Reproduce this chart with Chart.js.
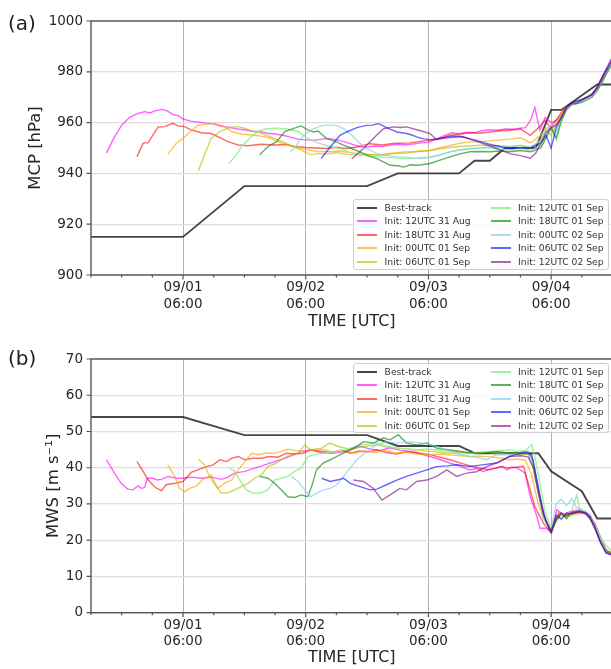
<!DOCTYPE html>
<html><head><meta charset="utf-8">
<script src="https://cdn.jsdelivr.net/npm/chart.js@4.4.1/dist/chart.umd.min.js"></script>
<style>
html,body{margin:0;padding:0;background:#fff;overflow:hidden;width:611px;height:669px;}
#wrap{position:relative;width:611px;height:669px;overflow:hidden;font-family:'DejaVu Sans',sans-serif;}
canvas{position:absolute;left:0;}
.plabel{position:absolute;left:8px;font-size:20px;line-height:20px;color:#222;}
.legend{position:absolute;background:rgba(255,255,255,0.8);border:1px solid #cfcfcf;border-radius:3px;box-sizing:border-box;}
.li{position:absolute;height:12px;white-space:nowrap;font-size:9.2px;line-height:12px;color:#333;}
.li .ln{position:absolute;left:0;top:5px;width:20px;height:2px;}
.li .tx{position:absolute;left:27.6px;top:0;}
</style>
</head><body>
<div id="wrap">
  <canvas id="cA" width="620" height="331" style="top:0"></canvas>
  <canvas id="cB" width="620" height="339" style="top:330px"></canvas>
  <div class="plabel" style="top:13px">(a)</div>
  <div class="plabel" style="top:348px">(b)</div>
  <div class="legend" id="legA" style="left:353px;top:199px;width:256px;height:71px"></div>
  <div class="legend" id="legB" style="left:353px;top:363px;width:256px;height:70px"></div>
</div>
<script>
// ---------- categories / labels ----------
const seriesLabels = ['Best-track','Init: 12UTC 31 Aug','Init: 18UTC 31 Aug','Init: 00UTC 01 Sep','Init: 06UTC 01 Sep',
  'Init: 12UTC 01 Sep','Init: 18UTC 01 Sep','Init: 00UTC 02 Sep','Init: 06UTC 02 Sep','Init: 12UTC 02 Sep'];
// x = hours since 12UTC 31 Aug
const xTickHours = [18, 42, 66, 90];
const xTickLabels = [['09/01','06:00'],['09/02','06:00'],['09/03','06:00'],['09/04','06:00']];

// ---------- (a) MCP [hPa] ----------
const mcpBest = [[0,915],[18,915],[30,935],[54,935],[60,940],[72,940],[75,945],[78,945],[81,950],[87,950],[90,965],[92,965],[99,975],[102,975]];
const mcp12UTC31Aug = [[3,948],[4.5,954],[6,959],[7.5,962],[9,963.5],[10.5,964.3],[11.5,963.8],[12.5,964.6],[14,965.2],[15,964.5],[16,963.2],[17,962.8],[18,961.4],[19.5,960.6],[21,960.2],[22.5,959.8],[24,959.5],[25.5,958.5],[27,958.2],[28.5,957.5],[30,957.2],[31.5,956.6],[33,956.5],[34.5,955.8],[36,955.5],[37.5,955],[39,954.3],[40.5,953.5],[42,953.2],[43.5,953],[45,953.4],[46.5,953.8],[48,953.2],[49.5,952.5],[51,951.5],[52.5,950.6],[54,950.4],[55.5,950.8],[57,950.6],[58.5,951.2],[60,951.5],[61.5,951.3],[63,951.6],[64.5,952],[66,952.2],[67.5,953.5],[69,954.8],[70.5,956],[72,955.6],[73.5,956.2],[75,956],[76.5,956.8],[78,957.2],[79.5,957],[81,957.5],[82.5,957.4],[84,957.8],[85,958],[86,961],[86.8,966],[87.8,957],[88.8,962],[90,960],[91,961],[92,963],[93,966],[94,967],[95,968],[96,969],[97,970],[98,971.5],[99,973.5],[100,977],[101,981],[102,985]];
const mcp18UTC31Aug = [[9,946.6],[10.2,951.9],[11.2,952.1],[12.1,955.1],[13.1,958.2],[14.4,958.4],[16,959.7],[17,958.7],[18.3,958.4],[19.6,957.1],[21.6,956],[23.5,955.7],[24.8,954.5],[26.8,952.5],[28.8,951.2],[30.7,950.9],[33.3,951.5],[35.9,951.2],[38,951.4],[39.8,950.6],[42,950.2],[44,950],[46,949.8],[48,950.3],[50,949.8],[52,950.4],[54.6,951.7],[57,951.2],[59,951.8],[62.4,952],[64,952.5],[66.3,953],[68,953.5],[70.2,955],[72,955.4],[74.1,956],[76,955.8],[78,956.3],[80,956.8],[82,957],[84,957.5],[85.9,955],[87.8,958.5],[88.8,961],[89.8,958],[91,961],[92,964],[93,966],[94,967.5],[96,969],[98,971],[99,974],[100,978],[101,981.5],[102,984]];
const mcp00UTC01Sep = [[15,947.5],[16.7,951.9],[18,953.8],[19.6,956.7],[20.9,959],[22.6,959.3],[24.2,959.7],[25.8,958.8],[27.5,956.5],[29.4,955.4],[31.4,955.1],[34,954.5],[35.5,953.5],[37.2,951.9],[39,951],[40.5,950.2],[42.4,949.2],[44.4,948.6],[46.5,948.5],[48.5,948.8],[50.5,948.2],[52.6,947.8],[54.5,947.5],[55.9,947.1],[58,947.8],[61.1,948.4],[63.5,948.6],[66.3,949],[68,950],[70.2,951],[72,951.8],[74.1,952.4],[76,952.4],[78,952.8],[80,953.2],[82,953.5],[84,954],[86,952],[88,955],[89,958],[90,957],[91,960],[92,963],[93,966],[94,967],[96,968.5],[98,971],[99,973],[100,977],[101,981],[102,984.5]];
const mcp06UTC01Sep = [[21,941],[22.2,947.3],[23.5,953.8],[25.2,956.5],[26.8,957.8],[28.4,958.4],[29.7,958],[31.4,956.7],[33.3,955.8],[35.9,953.8],[38.5,951.5],[41.1,949.2],[43,947.3],[44.4,947.9],[46,947.6],[48,948.2],[50,947.5],[52.6,947.1],[55,947.4],[57,947.2],[59.1,947.8],[61.5,948],[64,948.6],[66.3,949],[68,949.6],[70.2,950.2],[72,950.6],[75.4,951],[77.5,951.2],[79.3,951],[81.9,950.6],[84,951],[86,950],[88,953],[89,957],[90,955],[91,959],[92,963],[93,965.5],[94,967],[96,969],[98,971],[99,973],[100,976],[101,980],[102,984]];
const mcp12UTC01Sep = [[27,944],[28.4,947.3],[29.7,951.2],[31.4,954.5],[32.7,956.5],[34,957.5],[35.9,957.8],[38.5,957.5],[40.5,956.5],[42.4,953.8],[44.4,951.9],[46.5,950.8],[49,949.5],[51.3,947.8],[53.5,947],[55.9,946.5],[58.5,946.2],[61.1,945.8],[63.5,946],[66.3,946.5],[68,947.3],[70.2,948.5],[72,949.2],[75.4,949.8],[77,950.2],[79.3,949.8],[81.9,949.1],[84,950],[86,949],[88,951],[89,955],[90,958],[91,953],[92,960],[93,965],[94,967],[96,968.5],[98,970.5],[99,973],[100,976],[101,980],[102,983]];
const mcp18UTC01Sep = [[33,947.3],[34.6,950.6],[36.3,952.5],[37.9,956.5],[39.8,957.8],[41.1,958.7],[42.4,957.1],[43.5,956.3],[44.4,956.7],[46.1,953.7],[47.5,952.8],[49.4,951.1],[51,949.8],[52.6,948.5],[54.2,947],[55.9,945.8],[57.2,944.5],[58.5,943.2],[60,943],[61.1,942.5],[62.5,943.4],[63.7,943.2],[65,943.5],[66.3,943.9],[68,945],[70.2,946.5],[72,947.6],[74.1,948.5],[76,948.6],[78,948.5],[80,948.8],[81.9,948.5],[84,949],[86,948.5],[88,950],[89,954],[90,958],[91,954],[92,961],[93,965],[94,967],[96,968],[98,970],[99,972.5],[100,976],[101,980],[102,983.5]];
const mcp00UTC02Sep = [[39,948.5],[40,950.5],[41.1,953.8],[42.2,955.8],[43,957.1],[44.8,958.6],[46,959],[47.4,959],[48.5,958.5],[49.4,957.6],[50.5,955.8],[51.3,954.4],[52.5,952],[53.9,949.8],[55.9,947.8],[57.5,947.2],[59.8,946.5],[62,946.3],[64.4,945.8],[66.3,946.2],[68,947],[70.2,948.5],[72,949.2],[74.1,949.8],[76,950],[78,950.4],[80,950.5],[82,950.6],[84,951],[86,950.5],[88,953],[89,957],[90,959],[91,956],[92,962],[93,965],[94,967],[96,968.5],[98,970.5],[99,973],[100,976.5],[101,980.5],[102,984]];
const mcp06UTC02Sep = [[45,945.8],[46.8,950.4],[48.7,955],[50,956.3],[52,958],[53.9,958.9],[55,959],[56.2,959.6],[57,958.9],[57.8,958],[59,957],[59.8,956.3],[61.7,955.7],[62.6,955.2],[63.7,954.4],[65,953.6],[66.3,953.3],[67.5,953.6],[68.9,954.1],[70.5,954.6],[72.2,954.6],[73.8,953.8],[75.4,953],[77,952],[78.7,951.1],[80.3,950.4],[81.9,949.8],[84,950],[86,950],[88,952],[89,955],[90,950],[91,958],[92,962],[93,966],[94,968],[96,969],[98,971],[99,974],[100,978],[101,982],[102,986]];
const mcp12UTC02Sep = [[51,945.8],[53.3,949.8],[55.2,953.7],[57.2,957.6],[59.1,958.3],[60.5,958.1],[61.7,958.3],[63.7,957.2],[65,956.5],[66.3,955.7],[67.6,953.3],[69,953.8],[70.2,954.1],[72.8,954.4],[74.5,953.2],[76.7,951.7],[78,950.8],[79.3,949.8],[81.9,947.8],[84,947],[85.9,946],[87,948],[88,952],[89,956],[90,958],[91,959],[92,962],[93,966],[94,967.5],[95,967.5],[96,969],[98,971],[99,973.5],[100,977],[101,981],[102,985]];

// ---------- (b) MWS [m s-1] ----------
const mwsBest = [[0,54],[18,54],[30,49],[54,49],[60,46],[72,46],[75,44],[87.5,44],[90,39],[96,33.5],[99,26],[102,26]];
const mws12UTC31Aug = [[3,42.2],[4.6,38.5],[5.9,35.7],[7.2,34.1],[8.2,33.9],[9.2,35],[9.9,34.3],[10.5,34.6],[11,37.1],[12.1,37.1],[13,36.6],[13.8,36.8],[15.1,37.6],[16.7,37.1],[18,37.1],[19.6,37.4],[21.6,37.1],[23.5,37.4],[25.5,36.8],[26.8,37.4],[28.1,38.5],[30.1,39],[32,39.9],[34,40.8],[35.9,41.7],[37.9,42.6],[39.8,43.6],[41.1,44.5],[43,44.9],[45,44.2],[47,44],[49,44.3],[51,45],[52.6,45.9],[54.5,45.2],[56.5,44.8],[58.5,45.5],[60.5,44.8],[62.4,44.5],[64.5,43.8],[66.3,43.1],[68,42.4],[70.2,41.3],[72,40.5],[74.1,39.4],[75.5,39.8],[76.7,38.9],[78,39.6],[79.3,39.9],[80.5,40.4],[81.3,39.4],[82.3,40.2],[83.3,40],[84.9,38.5],[85.9,32.1],[87.2,26.6],[87.8,23.3],[89.1,23.3],[90.1,22],[91.1,28.4],[92.4,27],[93.7,27.9],[95.6,28.4],[97.6,27],[98.6,24],[99.6,20.1],[100.9,16.4],[102,16]];
const mws18UTC31Aug = [[9,41.7],[10.2,39],[11.2,36.6],[12.5,34.6],[13.8,33.7],[14.7,35.3],[16.4,35.7],[18,36.2],[19.6,38.7],[20.9,39.4],[22.6,40.3],[23.9,40.8],[25.2,42.2],[26.5,41.7],[27.5,42.6],[28.8,43.1],[30.1,42.2],[31.7,42.6],[33.3,42.6],[34.9,43.1],[36.6,42.9],[38.2,44],[39.8,43.8],[41.5,44],[43,44.9],[45.1,44.5],[47,44.2],[49,44.8],[50.7,44],[52.5,44.6],[54,44.3],[55.9,44.9],[57.8,44.2],[59.8,43.8],[61.8,44.4],[63.7,44.2],[65,43.9],[66.3,43.6],[68,43],[70.2,42.2],[72,41.4],[73.5,40.8],[75,40.2],[76.5,39.8],[78,39.4],[80,40.3],[81.9,39.9],[83.5,40.2],[84.6,40.4],[85.5,35.8],[86.8,29.3],[88.5,24.7],[89.8,22.4],[90.8,25],[91.5,27.5],[92.5,26.5],[93.5,27.3],[95,27.6],[96.5,27.8],[97.6,26.4],[98.6,24.5],[99.6,21],[100.7,17.5],[102,16.2]];
const mws00UTC01Sep = [[15,40.8],[16.4,37.6],[17.3,34.3],[18.3,33.4],[19.3,34.3],[20.6,35],[21.9,36.8],[23.5,38],[24.8,34.3],[26.1,35.7],[27.5,36.6],[28.8,39.4],[30.1,41.7],[31.4,44],[32.7,43.6],[34,44],[35.9,44],[37.2,44.5],[38.5,45.1],[39.8,44.8],[41.8,44.5],[43.7,44.9],[45.5,45],[47.5,44.3],[49.5,44.8],[51.5,44],[53.5,44.7],[55.5,44.2],[57.5,44.8],[59.5,44],[61.5,44.4],[63.5,43.8],[66.3,43.6],[68.5,43.8],[70.5,43.5],[72.5,43.3],[74.1,43.1],[76,43.2],[78,43],[80,42.7],[81.9,42.2],[83.5,42.4],[85,42],[86.2,38],[87.3,31],[88.5,26],[90,22.9],[91,26.5],[92,27.2],[93.5,27],[95,27.5],[96.5,27.3],[97.6,26.2],[98.6,24],[99.6,20.5],[100.7,17.2],[102,16.4]];
const mws06UTC01Sep = [[21,42.4],[22.2,40.8],[23.2,37.6],[24.2,35.3],[25.5,33],[26.8,33.1],[28.1,33.9],[29.4,34.8],[30.7,35.7],[32,37.1],[33.3,38],[34.6,40.3],[36.3,41.3],[37.6,42.6],[39.2,43.6],[40.5,44],[41.8,46.3],[43,44.9],[45.1,45.4],[46.7,46.8],[48.5,45.8],[50.5,45.2],[52.5,45.6],[54,46],[55.9,46.3],[57.8,45.7],[60,45.4],[62.4,45.1],[64.5,44.8],[66.3,44.5],[68,44.3],[70.2,44],[72,44.2],[74,44],[76,44.3],[78,44.2],[80,44],[82,43.9],[84,43.6],[85.5,43.8],[86.5,40],[87.5,33],[88.5,27],[90,22.5],[91,26],[92,26.8],[93.5,26.5],[95,27.2],[96.5,27.5],[97.6,26],[98.6,23.5],[99.6,20],[100.7,17],[102,16.2]];
const mws12UTC01Sep = [[27,39.9],[28.1,39],[29.1,36.6],[30.4,33.9],[31.7,33],[33.3,33.1],[34.6,33.9],[35.9,36.6],[37.2,37.1],[38.5,37.6],[39.8,39],[41.1,39.9],[42.4,43.1],[43.7,43.6],[45.4,44],[47.5,44.3],[49.4,44.9],[51,45.5],[52.6,46.3],[54.2,46.5],[55.9,46.8],[57.8,46],[59.8,45.4],[61.8,45.2],[63.7,44.9],[65.5,45.2],[67.5,44.9],[69.5,44.6],[71.5,44.5],[73.5,44.2],[75.4,44],[77.4,44.4],[79.3,44.6],[81.9,45],[83.5,44.5],[85,44.8],[86.2,46.4],[87,42],[88,34],[89,27],[90.1,22.9],[91,25],[92,27],[93,26],[94,28],[95,32.5],[95.7,28],[96.8,28],[97.6,26.5],[98.6,24],[99.6,21],[100.7,18.5],[102,17]];
const mws18UTC01Sep = [[33,37.6],[34.6,37.1],[35.9,35.7],[37.2,33.9],[38.5,32],[39.8,31.8],[41.1,32.5],[42.4,32],[43.2,35],[44.1,39.4],[45.4,41.3],[46.8,42.2],[48.1,43.1],[50,44.5],[52,45.9],[53.3,47.2],[55.2,46.8],[57.2,48.2],[58.5,47.7],[60.1,49.1],[61.7,46.8],[63.7,46.3],[65.7,46.8],[67.6,45.4],[70.2,44.9],[73.5,44.2],[76.7,44],[79.3,44.5],[81.9,44],[84,44.2],[85.5,44.5],[86.5,42],[87.5,34],[88.5,27],[90,22],[91,25.5],[92,27.5],[93,26],[94,27.8],[95.5,28],[96.8,27.5],[97.6,26],[98.6,23.5],[99.6,20],[100.7,17],[102,16.5]];
const mws00UTC02Sep = [[39.2,37.6],[40.5,36.2],[41.8,33.9],[43,32],[44.1,33],[45.4,33.9],[46.8,34.3],[48.1,35.3],[49.4,37.6],[50.7,39.9],[52,42.2],[53.9,44.5],[55.9,46.3],[57.8,47.2],[59.8,46.8],[62.4,47.2],[65,46.8],[67.6,45.9],[70.2,44.5],[72,43.8],[74.1,43.1],[75.8,42.8],[77.4,42.2],[79.3,43.6],[81.9,43.6],[84,44],[85.5,44.2],[86.5,41],[87.5,33],[88.5,26],[90,23],[91,30],[92,31.3],[93,29.5],[94,31.5],[95,29],[96,28.5],[97.6,26.5],[98.6,24],[99.6,20.5],[100.7,17],[102,16]];
const mws06UTC02Sep = [[45.1,37.1],[46.8,36.2],[48.1,36.6],[49.4,37.1],[50.7,35.7],[52.6,34.8],[54.6,33.9],[55.9,34.1],[57.8,35.3],[59.8,36.6],[61.7,37.6],[63.7,38.5],[65.7,39.4],[67.6,40.3],[69.6,40.5],[71.5,40.8],[74.1,40.3],[76.5,40.8],[79.3,41.3],[81.9,43.1],[83.5,43.8],[85,44.2],[86.2,43.5],[87,38],[88,31],[89,25],[90,22.5],[91,27],[92,25.8],[93,27.5],[94,27.2],[95.5,28],[96.8,27.6],[97.6,26.4],[98.6,23.5],[99.6,19.5],[100.7,16.5],[102,15.8]];
const mws12UTC02Sep = [[51.3,36.6],[53.3,36.2],[55.2,34.3],[56.9,31.1],[58.5,32.5],[60.4,34.3],[61.7,33.9],[63.7,36.2],[65.7,36.6],[67.6,37.6],[69.6,39.4],[71.5,37.6],[73.5,38.5],[75.4,38.9],[77.4,40.3],[79.3,41.3],[81.9,43.1],[84,43.3],[85.5,43],[86.5,40],[87.5,33],[88.5,27],[90,22.3],[91,26],[92,27.5],[93,26.8],[94,27.5],[95.5,27.8],[96.8,27.3],[97.6,26],[98.6,23],[99.6,19.5],[100.7,16.8],[102,16]];

// ---------- styles ----------
const seriesColors = ['rgba(0,0,0,0.72)','rgba(255,0,255,0.62)','rgba(255,0,0,0.6)','rgba(255,165,0,0.65)','rgba(191,191,0,0.65)',
  'rgba(144,238,144,0.85)','rgba(0,128,0,0.62)','rgba(135,206,235,0.7)','rgba(0,0,255,0.6)','rgba(128,0,128,0.6)'];
const FONT = "'DejaVu Sans', sans-serif";
const TXT = '#262626';

const mcpSeries = [mcpBest, mcp12UTC31Aug, mcp18UTC31Aug, mcp00UTC01Sep, mcp06UTC01Sep, mcp12UTC01Sep, mcp18UTC01Sep, mcp00UTC02Sep, mcp06UTC02Sep, mcp12UTC02Sep];
const mwsSeries = [mwsBest, mws12UTC31Aug, mws18UTC31Aug, mws00UTC01Sep, mws06UTC01Sep, mws12UTC01Sep, mws18UTC01Sep, mws00UTC02Sep, mws06UTC02Sep, mws12UTC02Sep];

const framePlugin = {
  id: 'frame',
  afterDraw(chart) {
    const {ctx, chartArea: a, scales: {x, y}} = chart;
    ctx.save();
    ctx.strokeStyle = '#555';
    ctx.lineWidth = 1.2;
    ctx.beginPath();
    x.ticks.forEach(t => {
      const px = x.getPixelForValue(t.value);
      const len = xTickHours.includes(t.value) ? 4.5 : 2.5;
      ctx.moveTo(px, a.bottom); ctx.lineTo(px, a.bottom + len);
    });
    y.ticks.forEach(t => {
      const py = y.getPixelForValue(t.value);
      ctx.moveTo(a.left, py); ctx.lineTo(a.left - 4.5, py);
    });
    ctx.stroke();
    ctx.lineWidth = 1.4;
    ctx.strokeRect(a.left, a.top, a.right - a.left, a.bottom - a.top);
    ctx.restore();
  }
};

function makeChart(id, series, yMin, yMax, yStep, yTitle, pad, yWidth, xHeight) {
  const datasets = series.map((pts, i) => ({
    label: seriesLabels[i],
    data: pts.map(p => ({x: p[0], y: p[1]})),
    borderColor: seriesColors[i],
    borderWidth: i === 0 ? 1.9 : 1.4,
    pointRadius: 0,
    tension: 0,
    fill: false,
    order: -i
  }));
  return new Chart(document.getElementById(id), {
    type: 'line',
    data: {datasets},
    plugins: [framePlugin],
    options: {
      responsive: false, animation: false, devicePixelRatio: 1,
      layout: {padding: pad},
      plugins: {legend: {display: false}, tooltip: {enabled: false}},
      scales: {
        x: {
          type: 'linear', min: 0, max: 102,
          border: {display: false},
          grid: {drawTicks: false, lineWidth: 1,
            color: c => (c.tick && xTickHours.includes(c.tick.value)) ? '#b3b3b3' : 'rgba(0,0,0,0)'},
          ticks: {stepSize: 6, autoSkip: false, maxRotation: 0, minRotation: 0, padding: 4, color: TXT,
            font: {family: FONT, size: 13.5, lineHeight: 1.24},
            callback: v => { const k = xTickHours.indexOf(v); return k >= 0 ? xTickLabels[k] : ''; }},
          title: {display: true, text: 'TIME [UTC]', color: TXT, padding: 0, font: {family: FONT, size: 16, lineHeight: 1.2}},
          afterFit: s => { s.height = xHeight; }
        },
        y: {
          type: 'linear', min: yMin, max: yMax,
          border: {display: false},
          grid: {drawTicks: false, color: '#dedede', lineWidth: 1.2},
          ticks: {stepSize: yStep, padding: 8, color: TXT, font: {family: FONT, size: 13.5},
            callback: v => String(v)},
          title: {display: true, text: yTitle, color: TXT, padding: 0, font: {family: FONT, size: 16.5, lineHeight: 1.2}},
          afterFit: s => { s.width = yWidth; }
        }
      }
    }
  });
}

makeChart('cA', mcpSeries, 900, 1000, 20, 'MCP [hPa]', {left: 26, top: 21, right: 7.5, bottom: 0}, 65, 56);
makeChart('cB', mwsSeries, 0, 70, 10, 'MWS [m s\u207B\u00B9]', {left: 44, top: 29, right: 7.5, bottom: 2}, 47, 54.3);

function buildLegend(id) {
  const box = document.getElementById(id);
  seriesLabels.forEach((lab, i) => {
    const col = Math.floor(i / 5), row = i % 5;
    const d = document.createElement('div');
    d.className = 'li';
    d.style.left = (col === 0 ? 3 : 136.5) + 'px';
    d.style.top = (1.5 + row * 13.6) + 'px';
    const ln = document.createElement('div');
    ln.className = 'ln';
    ln.style.background = seriesColors[i];
    const tx = document.createElement('div');
    tx.className = 'tx';
    tx.textContent = lab;
    d.appendChild(ln);
    d.appendChild(tx);
    box.appendChild(d);
  });
}
buildLegend('legA');
buildLegend('legB');
</script>
</body></html>
